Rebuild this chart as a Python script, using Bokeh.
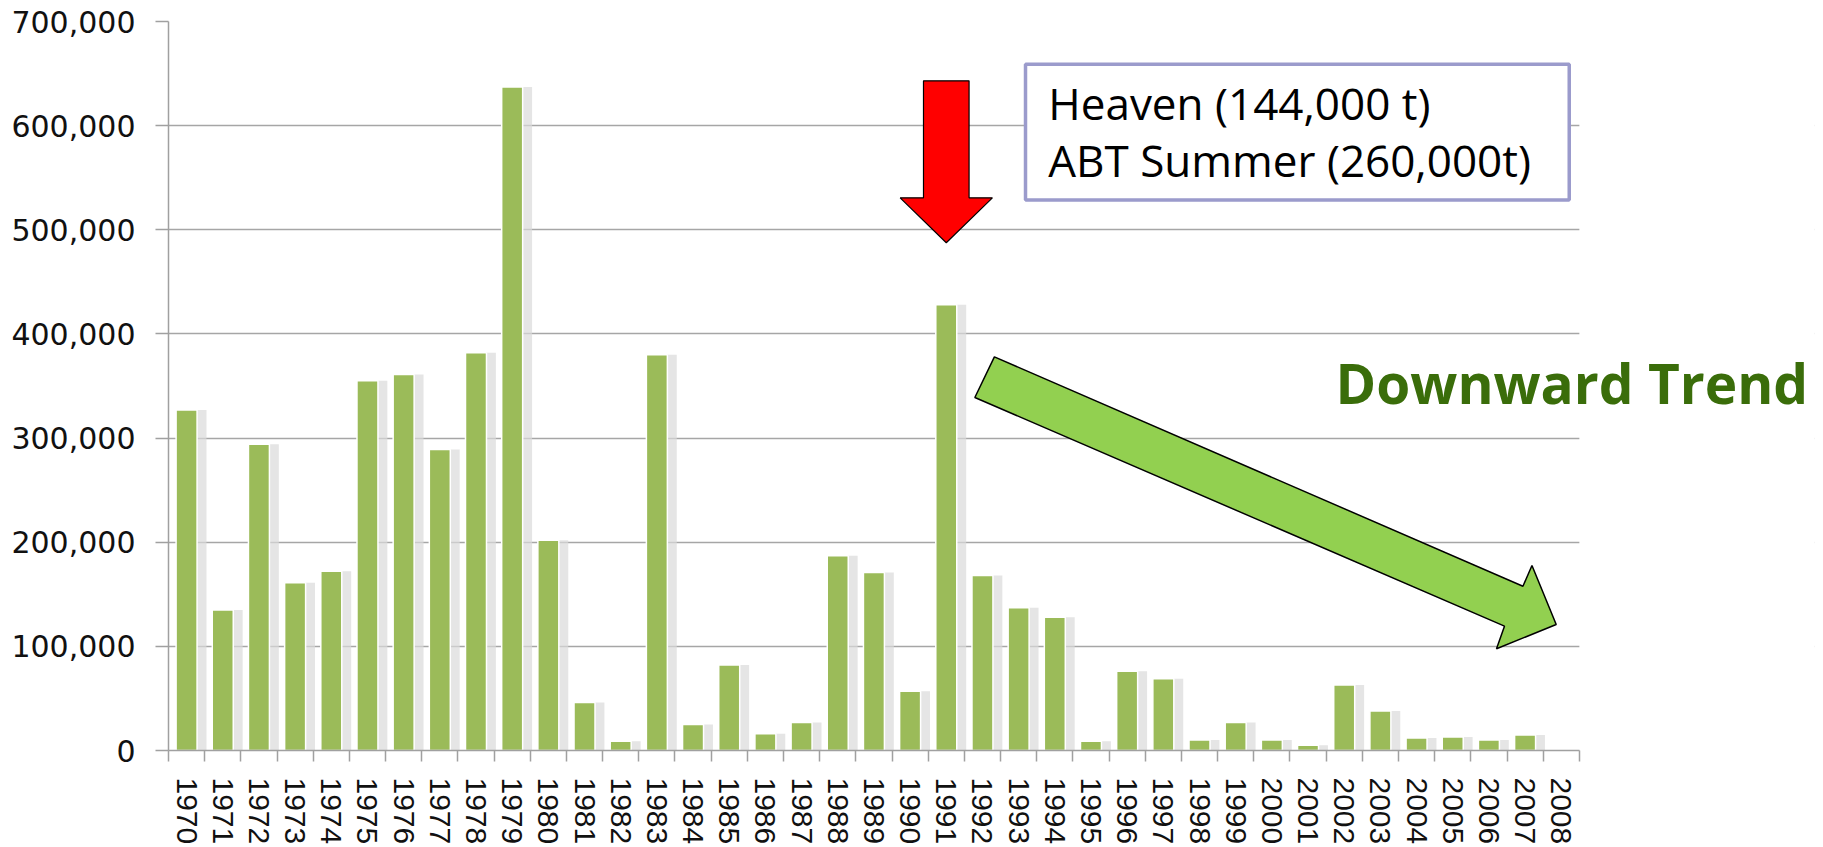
from bokeh.plotting import figure
from bokeh.models import FixedTicker, Label, NumeralTickFormatter, Range1d
from bokeh.embed import file_html
from bokeh.resources import INLINE

# ---- data ----
years = list(range(1970, 2009))
spilled = [327000, 135000, 294000, 161000, 172000, 355000, 361000, 289000, 382000, 637000,
           202000, 46000, 9000, 380000, 25000, 82000, 16000, 27000, 187000, 171000,
           57000, 428000, 168000, 137000, 128000, 9000, 76000, 69000, 10000, 27000,
           10000, 5000, 63000, 38000, 12000, 13000, 10000, 15000, 0]
y_ticks = [0, 100000, 200000, 300000, 400000, 500000, 600000, 700000]
box_lines = ["Heaven (144,000 t)", "ABT Summer (260,000t)"]
trend_text = "Downward Trend"
highlight_year = 1991

idx = list(range(len(years)))
x_last = len(years) - 0.5      # right edge of the category axis
x_extra = 45.0                 # extra room on the right for the "Downward Trend" text

p = figure(width=1823, height=847, output_backend="svg", toolbar_location=None,
           x_range=Range1d(-0.5, x_extra), y_range=Range1d(0, 700000),
           min_border_left=168, min_border_right=9, min_border_top=21, min_border_bottom=96,
           outline_line_color=None, background_fill_color="white", border_fill_color="white")

# grid
p.xgrid.grid_line_color = None
p.ygrid.ticker = FixedTicker(ticks=y_ticks)
p.ygrid.grid_line_color = "#a6a6a6"
p.ygrid.grid_line_width = 1.5

# bar shadows + bars
p.vbar(x=[i + 0.25 for i in idx], top=spilled, width=0.6, fill_color="#dadada",
       line_color=None, fill_alpha=0.7)
p.vbar(x=idx, top=spilled, width=0.58, fill_color="#9bbb59", line_color="white", line_width=1.5)

# white mask so gridlines stop at the end of the category axis
p.quad(left=[x_last], right=[x_extra + 2], bottom=[-20000], top=[720000],
       fill_color="white", line_color=None)

# y axis
ya = p.yaxis[0]
ya.ticker = FixedTicker(ticks=y_ticks)
ya.formatter = NumeralTickFormatter(format="0,0")
ya.axis_line_color = "#a0a0a0"
ya.axis_line_width = 1.5
ya.major_tick_line_color = "#a0a0a0"
ya.major_tick_line_width = 1.5
ya.major_tick_out = 13
ya.major_tick_in = 0
ya.minor_tick_line_color = None
ya.major_label_text_font = "DejaVu Sans"
ya.major_label_text_font_size = "30px"
ya.major_label_text_color = "#111111"
ya.major_label_standoff = 20

# x axis
xa = p.xaxis[0]
xa.bounds = (-0.5, x_last)
xa.ticker = FixedTicker(ticks=idx, minor_ticks=[i - 0.5 for i in range(len(years) + 1)])
xa.major_label_overrides = {i: str(y) for i, y in zip(idx, years)}
xa.major_label_orientation = "vertical"
xa.axis_line_color = "#a0a0a0"
xa.axis_line_width = 1.5
xa.major_tick_line_color = None
xa.major_tick_out = 11
xa.major_tick_in = 0
xa.minor_tick_line_color = "#a0a0a0"
xa.minor_tick_line_width = 1.5
xa.minor_tick_out = 11
xa.minor_tick_in = 0
xa.major_label_text_font = "Liberation Sans"
xa.major_label_text_font_size = "30px"
xa.major_label_text_color = "#111111"
xa.major_label_standoff = 16

# red arrow pointing at the highlighted year
hx = years.index(highlight_year)
shaft_half, head_half = 0.63, 1.275
y_top, y_head, y_tip = 643000, 530700, 487500
p.patch(x=[hx - shaft_half, hx + shaft_half, hx + shaft_half, hx + head_half, hx,
           hx - head_half, hx - shaft_half],
        y=[y_top, y_top, y_head, y_head, y_tip, y_head, y_head],
        fill_color="#ff0000", line_color="black", line_width=1.2)

# green downward trend arrow
gx = [22.33, 36.94, 37.19, 37.86, 36.21, 36.43, 21.79]
gy = [378000, 157700, 177600, 121000, 97700, 119400, 339000]
p.patch(x=gx, y=gy, fill_color="#92d050", line_color="black", line_width=1.5)

# text box
p.quad(left=[23.19], right=[38.22], top=[658900], bottom=[528500],
       fill_color="white", line_color="#9b9bcc", line_width=3.5)
for txt, yb in zip(box_lines, [622000, 567000]):
    p.add_layout(Label(x=23.82, y=yb, text=txt, text_font="Open Sans",
                       text_font_size="44px", text_color="black",
                       text_baseline="alphabetic"))

p.add_layout(Label(x=31.76, y=353000, text=trend_text, text_font="Open Sans",
                   text_font_size="55px", text_font_style="bold", text_color="#3a6d0a",
                   text_baseline="alphabetic"))

open("out.html", "w").write(file_html(p, INLINE))
